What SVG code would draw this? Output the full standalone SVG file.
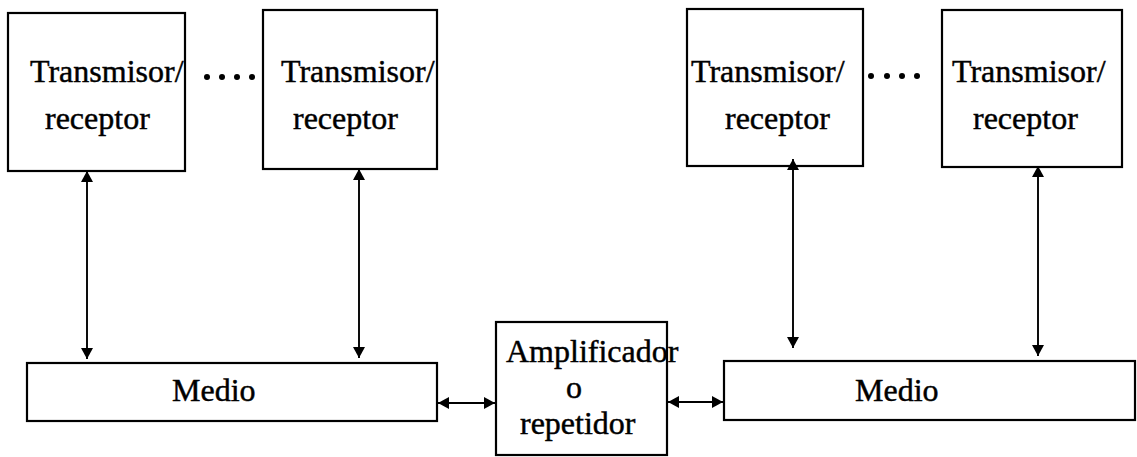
<svg xmlns="http://www.w3.org/2000/svg" width="1137" height="457" viewBox="0 0 1137 457">
  <style>
    .box { fill: #fff; stroke: #000; stroke-width: 2.2; }
    .lbl { font-family: "Liberation Serif", "Times New Roman", serif; font-size: 32px; fill: #000; stroke: #000; stroke-width: 0.45; }
    .wire { fill: none; stroke: #000; stroke-width: 1.9; }
    .dot { fill: #000; }
  </style>
  <defs>
    <marker id="head" markerUnits="userSpaceOnUse" markerWidth="14" markerHeight="14" refX="11" refY="7" orient="auto-start-reverse">
      <path d="M0,1 L11,7 L0,13 Z" fill="#000"/>
    </marker>
  </defs>

  <rect width="1137" height="457" fill="#fff"/>

  <g id="tx1">
    <rect class="box" x="8" y="13" width="177" height="158"/>
    <text class="lbl" x="30" y="82">Transmisor/</text>
    <text class="lbl" x="45" y="129">receptor</text>
  </g>
  <g id="dots-left">
    <circle class="dot" cx="207" cy="77" r="3"/>
    <circle class="dot" cx="222" cy="77" r="3"/>
    <circle class="dot" cx="237" cy="77" r="3"/>
    <circle class="dot" cx="252" cy="77" r="3"/>
  </g>
  <g id="tx2">
    <rect class="box" x="263" y="10" width="174" height="159"/>
    <text class="lbl" x="281" y="82">Transmisor/</text>
    <text class="lbl" x="293" y="129">receptor</text>
  </g>
  <g id="tx3">
    <rect class="box" x="687" y="9" width="176" height="157"/>
    <text class="lbl" x="691" y="82">Transmisor/</text>
    <text class="lbl" x="725" y="129">receptor</text>
  </g>
  <g id="dots-right">
    <circle class="dot" cx="871" cy="76" r="3"/>
    <circle class="dot" cx="887" cy="76" r="3"/>
    <circle class="dot" cx="902" cy="76" r="3"/>
    <circle class="dot" cx="917" cy="76" r="3"/>
  </g>
  <g id="tx4">
    <rect class="box" x="942" y="10" width="180" height="157"/>
    <text class="lbl" x="952" y="82">Transmisor/</text>
    <text class="lbl" x="973" y="129">receptor</text>
  </g>

  <g id="medio-left">
    <rect class="box" x="27" y="363" width="410" height="58"/>
    <text class="lbl" x="172" y="401">Medio</text>
  </g>
  <g id="amplificador">
    <rect class="box" x="496" y="322" width="171" height="133"/>
    <text class="lbl" x="506" y="362">Amplificador</text>
    <text class="lbl" x="566" y="398">o</text>
    <text class="lbl" x="520" y="434">repetidor</text>
  </g>
  <g id="medio-right">
    <rect class="box" x="724" y="361" width="411" height="59"/>
    <text class="lbl" x="855" y="401">Medio</text>
  </g>

  <g id="connectors">
    <line class="wire" x1="87" y1="171" x2="87" y2="359" marker-start="url(#head)" marker-end="url(#head)"/>
    <line class="wire" x1="359" y1="169" x2="359" y2="358" marker-start="url(#head)" marker-end="url(#head)"/>
    <line class="wire" x1="793" y1="159" x2="793" y2="348" marker-start="url(#head)" marker-end="url(#head)"/>
    <line class="wire" x1="1038" y1="166" x2="1038" y2="356" marker-start="url(#head)" marker-end="url(#head)"/>
    <line class="wire" x1="438" y1="403" x2="495" y2="403" marker-start="url(#head)" marker-end="url(#head)"/>
    <line class="wire" x1="668" y1="402" x2="723" y2="402" marker-start="url(#head)" marker-end="url(#head)"/>
  </g>
</svg>
